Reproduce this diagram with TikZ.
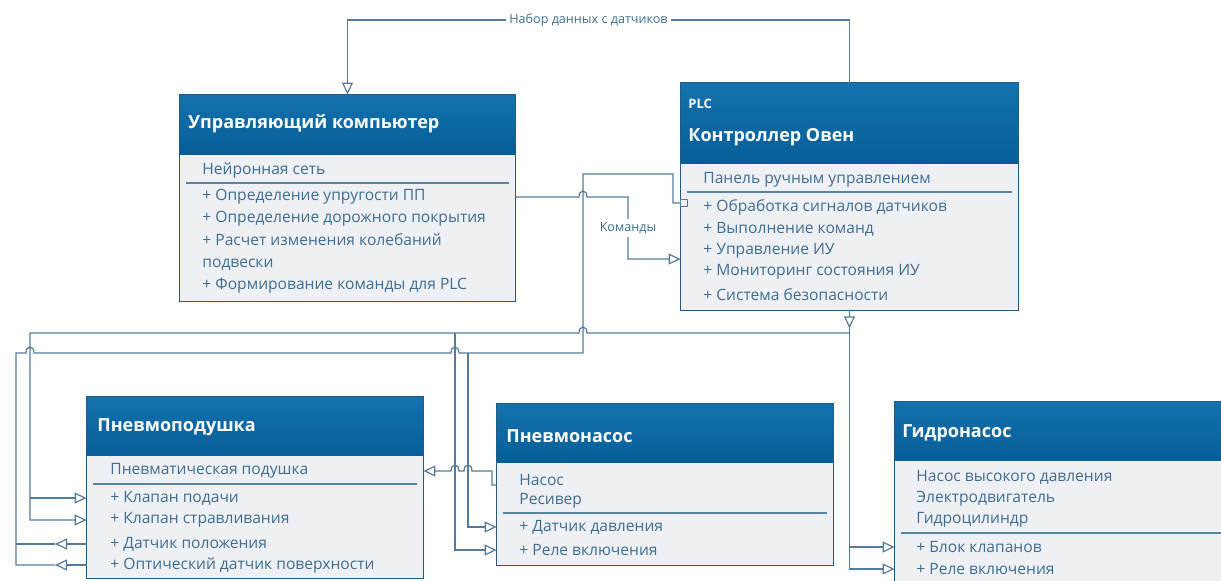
\documentclass[tikz,border=0pt]{standalone}
\usepackage{fontspec}
\setmainfont{Open Sans}
\usetikzlibrary{arrows.meta, positioning, fit, calc}

\definecolor{headtop}{HTML}{1472AE}
\definecolor{headbot}{HTML}{065E97}
\definecolor{bodyfill}{HTML}{EEF0F3}
\definecolor{framecol}{HTML}{235A82}
\definecolor{membertext}{HTML}{3E6E94}
\definecolor{wirecol}{HTML}{557B9C}

\begin{document}
\begin{tikzpicture}[
    x=0.5pt, y=-0.5pt,
    font=\fontsize{7.8}{11}\selectfont,
    classbody/.style={fill=bodyfill, inner sep=0pt},
    classhead/.style={top color=headtop, bottom color=headbot, inner sep=0pt},
    classframe/.style={draw=framecol, line width=0.8pt},
    classtitle/.style={anchor=west, inner sep=0pt, text=white,
        font=\fontsize{9}{11}\selectfont\bfseries},
    stereotype/.style={anchor=west, inner sep=0pt, text=white,
        font=\fontsize{6.5}{8}\selectfont\bfseries},
    member/.style={anchor=west, inner sep=0pt, text=membertext, align=left},
    divider/.style={draw=framecol!75, line width=0.6pt},
    wire/.style={draw=wirecol, line width=0.6pt},
    realize/.style={wire, -{Triangle[open, length=6pt, width=5.5pt]}},
    portbox/.style={draw=wirecol, fill=bodyfill, line width=0.5pt,
        minimum size=3.5pt, inner sep=0pt},
    wirelabel/.style={font=\fontsize{6.3}{7}\selectfont, text=membertext,
        fill=white, inner sep=1.5pt}
]
\useasboundingbox (0,0) rectangle (1221,580);

% --- Управляющий компьютер ---
\node[classbody, fit={(180,95) (515,301)}] (uk) {};
\node[classhead, fit={(180,95) (515,154)}] (ukhead) {};
\draw[classframe] (uk.north west) rectangle (uk.south east);
\node[classtitle] (uktitle) at (188,124) {Управляющий компьютер};
\node[member] (ukattr) at (202,170) {Нейронная сеть};
\draw[divider] (186,183) -- (509,183);
\node[member] (uk1) at (202,197) {+ Определение упругости ПП};
\node[member] (uk2) at (202,219) {+ Определение дорожного покрытия};
\node[member] (uk3) at (202,252) {+ Расчет изменения колебаний\\подвески};
\node[member] (uk4) at (202,286) {+ Формирование команды для PLC};

% --- PLC: Контроллер Овен ---
\node[classbody, fit={(681,83) (1018,310)}] (plc) {};
\node[classhead, fit={(681,83) (1018,163)}] (plchead) {};
\draw[classframe] (plc.north west) rectangle (plc.south east);
\node[stereotype] (plcstereo) at (688,104) {PLC};
\node[classtitle] (plctitle) at (688,137) {Контроллер Овен};
\node[member] (plcattr) at (703,180) {Панель ручным управлением};
\draw[divider] (687,192) -- (1012,192);
\node[member] (plc1) at (703,207) {+ Обработка сигналов датчиков};
\node[member] (plc2) at (703,229) {+ Выполнение команд};
\node[member] (plc3) at (703,251) {+ Управление ИУ};
\node[member] (plc4) at (703,272) {+ Мониторинг состояния ИУ};
\node[member] (plc5) at (703,295) {+ Система безопасности};

% --- Пневмоподушка ---
\node[classbody, fit={(87,397) (423,578)}] (pp) {};
\node[classhead, fit={(87,397) (423,455)}] (pphead) {};
\draw[classframe] (pp.north west) rectangle (pp.south east);
\node[classtitle] (pptitle) at (97,427) {Пневмоподушка};
\node[member] (ppattr) at (110,471) {Пневматическая подушка};
\draw[divider] (93,484) -- (417,484);
\node[member] (pp1) at (110,498) {+ Клапан подачи};
\node[member] (pp2) at (110,520) {+ Клапан стравливания};
\node[member] (pp3) at (110,544) {+ Датчик положения};
\node[member] (pp4) at (110,565) {+ Оптический датчик поверхности};

% --- Пневмонасос ---
\node[classbody, fit={(497,404) (833,565)}] (pn) {};
\node[classhead, fit={(497,404) (833,462)}] (pnhead) {};
\draw[classframe] (pn.north west) rectangle (pn.south east);
\node[classtitle] (pntitle) at (506,436) {Пневмонасос};
\node[member] (pnattr1) at (519,480) {Насос};
\node[member] (pnattr2) at (519,501) {Ресивер};
\draw[divider] (503,513) -- (827,513);
\node[member] (pn1) at (519,527) {+ Датчик давления};
\node[member] (pn2) at (519,550) {+ Реле включения};

% --- Гидронасос (cut at the right edge) ---
\node[classbody, fit={(895,402) (1240,600)}] (gn) {};
\node[classhead, fit={(895,402) (1240,460)}] (gnhead) {};
\draw[classframe] (gn.north west) rectangle (gn.south east);
\node[classtitle] (gntitle) at (902,433) {Гидронасос};
\node[member] (gnattr1) at (916,477) {Насос высокого давления};
\node[member] (gnattr2) at (916,499) {Электродвигатель};
\node[member] (gnattr3) at (916,520) {Гидроцилиндр};
\draw[divider] (901,533) -- (1240,533);
\node[member] (gn1) at (916,547) {+ Блок клапанов};
\node[member] (gn2) at (916,569) {+ Реле включения};

% --- rails used by the connectors ---
\coordinate (toprail) at (0,20);
\coordinate (cmdrail) at (0,333);
\coordinate (cmdin) at (0,259);
\coordinate (valvebus) at (30,0);
\coordinate (plctip) at ($(plc.south)+(0,18)$);

% sensor data up to the computer
\draw[realize] (plc.north) -- (plc.north |- toprail)
  -| node[wirelabel, pos=0.26] {Набор данных с датчиков} (uk.north);

% commands from the computer to the PLC
\draw[realize] (uk.east |- uk1) -- (579,197) .. controls (579,189) and (587,189) .. (587,197)
  -- (628,197) -- node[wirelabel] {Команды} (628,259) -- (plc.west |- cmdin);

% sensor bus: into the PLC port, down and left
\node[portbox] (plcport) at (684,203) {};
\draw[wire] (plcport.west) -- (673,203) |- (583,174) -- (583,353)
  -- (459,353) .. controls (459,345) and (451,345) .. (451,353)
  -- (34,353) .. controls (34,345) and (26,345) .. (26,353)
  -- (16,353) |- (55,565);
\draw[realize] (pp.west |- pp3) -- (55,544);
\draw[wire] (55,544) -- (16,544);
\draw[realize] (pp.west |- pp4) -- (55,565);
\draw[realize] (468,353) |- (pn.west |- pn1);

% command bus: out of the PLC bottom
\draw[realize] (plc.south) -- (plctip);
\draw[realize] (plctip) |- (gn.west |- gn2);
\draw[realize] (plctip |- gn1) -- (gn.west |- gn1);
\draw[realize] (plctip |- cmdrail) -- (587,333) .. controls (587,325) and (579,325) .. (579,333)
  -- (valvebus |- cmdrail) |- (pp.west |- pp2);
\draw[realize] (valvebus |- pp1) -- (pp.west |- pp1);
\draw[realize] (455,333) |- (pn.west |- pn2);

% Пневмонасос to Пневмоподушка
\draw[realize] (pn.west |- 0,485) -- (492,485) -- (492,471)
  -- (472,471) .. controls (472,463) and (464,463) .. (464,471)
  -- (459,471) .. controls (459,463) and (451,463) .. (451,471)
  -- (pp.east |- ppattr);

\end{tikzpicture}
\end{document}
